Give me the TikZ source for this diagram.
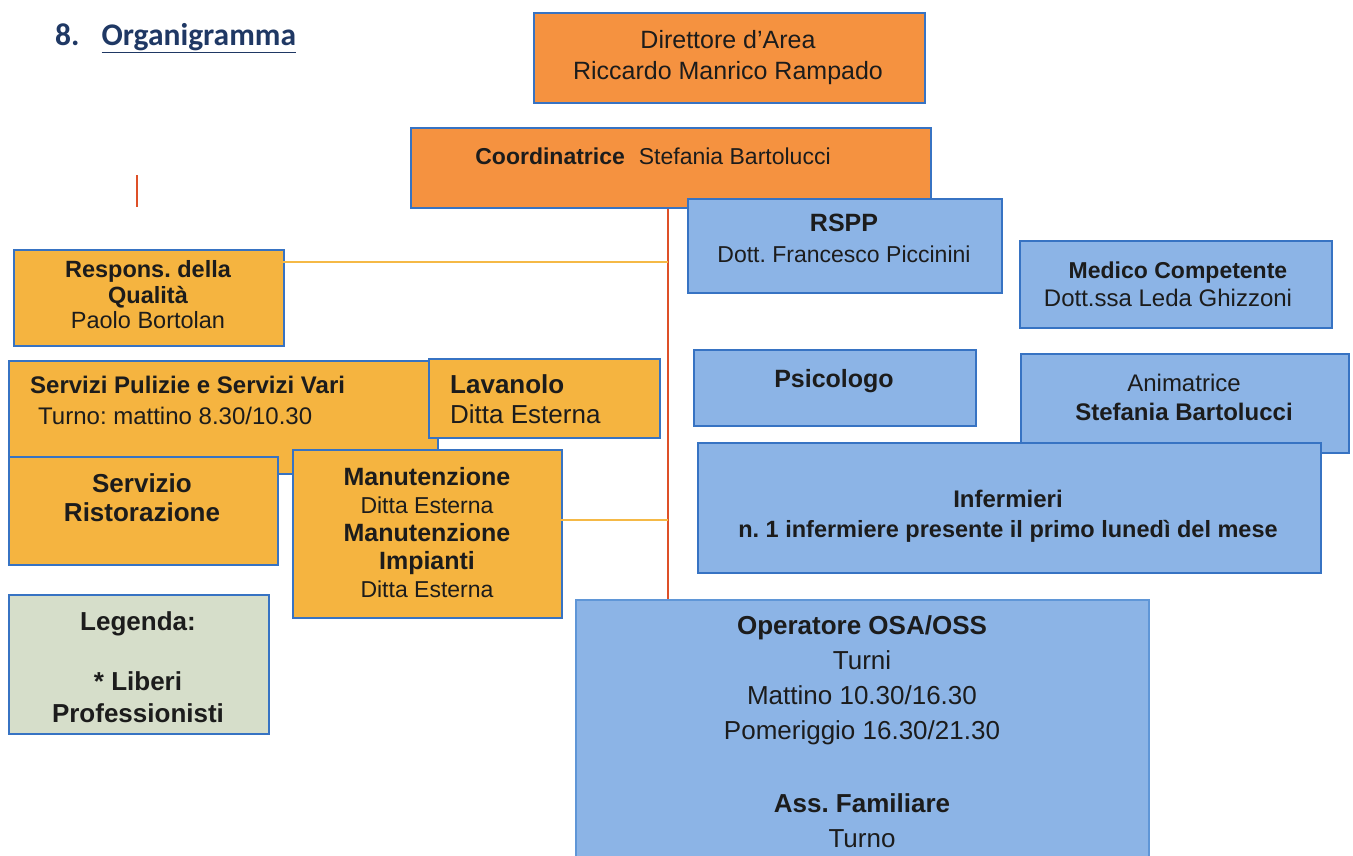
\documentclass[tikz,border=0pt]{standalone}
\usepackage{fontspec}
\setmainfont{Liberation Sans}
\newfontfamily\titlefont{Carlito}
\frenchspacing
\definecolor{orA}{RGB}{245,146,64}
\definecolor{orB}{RGB}{245,180,64}
\definecolor{blF}{RGB}{140,180,230}
\definecolor{grF}{RGB}{214,222,202}
\definecolor{bdC}{RGB}{55,115,195}
\definecolor{bdL}{RGB}{95,150,215}
\definecolor{redL}{RGB}{222,80,40}
\definecolor{orL}{RGB}{245,185,70}
\definecolor{txtC}{RGB}{28,28,28}
\definecolor{navyC}{RGB}{31,56,100}
\tikzset{
  box/.style={draw=bdC, line width=1.8pt, anchor=north west, inner sep=0pt},
  boxO/.style={box, fill=orA},
  boxY/.style={box, fill=orB},
  boxB/.style={box, fill=blF},
  boxG/.style={box, fill=grF},
  redline/.style={draw=redL, line width=1.3pt},
  orline/.style={draw=orL, line width=1.5pt},
  tx/.style={text=txtC, inner sep=0pt, anchor=mid, yshift=-6pt},
  rg/.style={tx, font=\fontsize{#1}{#1}\selectfont},
  bd/.style={tx, font=\fontsize{#1}{#1}\selectfont\bfseries},
}
\begin{document}
\begin{tikzpicture}[x=1pt,y=-1pt]
\useasboundingbox (0,0) rectangle (1353,855);
% title
\node[anchor=base west, inner sep=0pt, text=navyC, font=\titlefont\bfseries\fontsize{31.5}{31.5}\selectfont] (title) at (55,45) {8.\hspace{22pt}\underline{Organigramma}};
% stray red tick
\coordinate (tickA) at (137,175);
\coordinate (tickB) at (137,207);
\draw[redline] (tickA) -- (tickB);

% connectors
\coordinate (spine) at (668,0);
\coordinate (qa) at (283,262);
\coordinate (ma) at (561,520);

% top boxes
\node[boxO, minimum width=391pt, minimum height=90pt] (dir) at (533,12) {};
\node[boxO, minimum width=520pt, minimum height=80pt] (coord) at (410,127) {};

% left boxes
\node[boxY, minimum width=270pt, minimum height=96pt] (resp) at (13,249) {};
\node[boxY, minimum width=429pt, minimum height=113pt] (serv) at (8,360) {};
\node[boxY, minimum width=231pt, minimum height=79pt] (lav) at (428,358) {};
\node[boxY, minimum width=269pt, minimum height=108pt] (rist) at (8,456) {};
\node[boxY, minimum width=269pt, minimum height=168pt] (man) at (292,449) {};
\node[boxG, minimum width=260pt, minimum height=139pt] (leg) at (8,594) {};

% right boxes
\node[boxB, minimum width=314pt, minimum height=94pt] (rspp) at (687,198) {};
\node[boxB, minimum width=312pt, minimum height=87pt] (med) at (1019,240) {};
\node[boxB, minimum width=282pt, minimum height=76pt] (psi) at (693,349) {};
\node[boxB, minimum width=328pt, minimum height=99pt] (ani) at (1020,353) {};
\node[boxB, minimum width=623pt, minimum height=130pt] (inf) at (697,442) {};
\node[boxB, draw=bdL, minimum width=573pt, minimum height=280pt] (oper) at (575,599) {};

% connector lines
\draw[redline] (coord.south -| spine) -- (oper.north -| spine);
\draw[orline] (qa) -- (qa -| spine);
\draw[orline] (ma) -- (ma -| spine);

% texts
\node[rg=25] (dirA) at (728,40) {Direttore d’Area};
\node[rg=25] (dirB) at (728,71) {Riccardo Manrico Rampado};
\node[rg=23] (coT) at (653,156) {\textbf{Coordinatrice}\hspace{14pt}Stefania Bartolucci};

\node[bd=23.5] (reA) at (148,269) {Respons. della};
\node[bd=23.5] (reB) at (148,295) {Qualità};
\node[rg=23.5] (reC) at (148,320) {Paolo Bortolan};

\node[bd=24, anchor=mid west] (seA) at (30,385) {Servizi Pulizie e Servizi Vari};
\node[rg=24, anchor=mid west] (seB) at (38,416) {Turno: mattino 8.30/10.30};

\node[bd=26, anchor=mid west] (laA) at (450,385) {Lavanolo};
\node[rg=26, anchor=mid west] (laB) at (450,415) {Ditta Esterna};

\node[bd=26] (riA) at (142,484) {Servizio};
\node[bd=26] (riB) at (142,513) {Ristorazione};

\node[bd=25] (maA) at (427,477) {Manutenzione};
\node[rg=23] (maB) at (427,505) {Ditta Esterna};
\node[bd=25] (maC) at (427,533) {Manutenzione};
\node[bd=25] (maD) at (427,561) {Impianti};
\node[rg=23] (maE) at (427,589) {Ditta Esterna};

\node[bd=26] (leA) at (138,622) {Legenda:};
\node[bd=26] (leB) at (138,682) {* Liberi};
\node[bd=26] (leC) at (138,714) {Professionisti};

\node[bd=25] (rsA) at (844,223) {RSPP};
\node[rg=23] (rsB) at (844,254) {Dott. Francesco Piccinini};

\node[bd=23] (meA) at (1178,270) {Medico Competente};
\node[rg=24] (meB) at (1168,298) {Dott.ssa Leda Ghizzoni};

\node[bd=25] (psA) at (834,379) {Psicologo};

\node[rg=24] (anA) at (1184,383) {Animatrice};
\node[bd=24] (anB) at (1184,412) {Stefania Bartolucci};

\node[bd=24] (inA) at (1008,499) {Infermieri};
\node[bd=23.5] (inB) at (1008,529) {n. 1 infermiere presente il primo lunedì del mese};

\node[bd=26] (opA) at (862,626) {Operatore OSA/OSS};
\node[rg=26] (opB) at (862,661) {Turni};
\node[rg=26] (opC) at (862,696) {Mattino 10.30/16.30};
\node[rg=26] (opD) at (862,731) {Pomeriggio 16.30/21.30};
\node[bd=26] (opE) at (862,804) {Ass. Familiare};
\node[rg=26] (opF) at (862,839) {Turno};
\end{tikzpicture}
\end{document}
